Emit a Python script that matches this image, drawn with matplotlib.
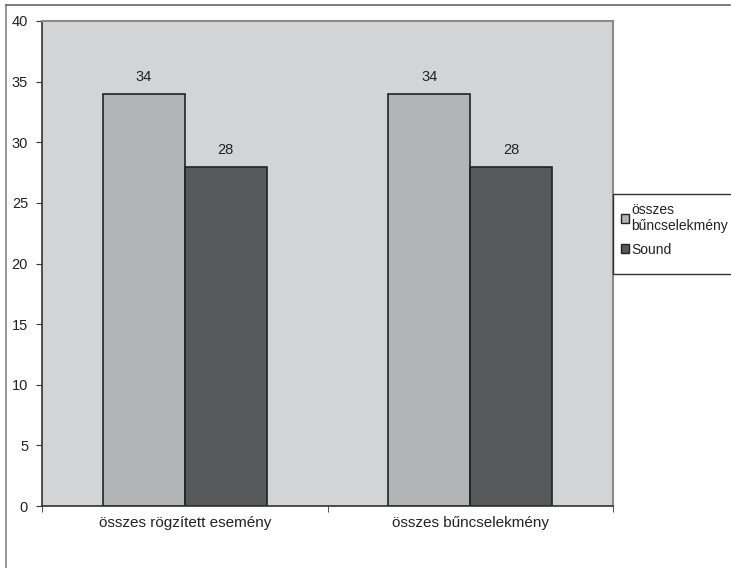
import numpy as np
from matplotlib import pyplot as plt
from matplotlib.lines import Line2D
from matplotlib.patches import Rectangle

plt.rcParams['font.family'] = ['Liberation Sans', 'DejaVu Sans']

categories = ['összes rögzített esemény', 'összes bűncselekmény']
series_names = ['összes\nbűncselekmény', 'Sound']
values_1 = [34, 34]
values_2 = [28, 28]
colours = ['#b3b4b6', '#58595b']

fig = plt.figure(figsize=(7.31, 5.68), dpi=100)
ax = fig.add_axes([42 / 731, 1 - 506 / 568, 571 / 731, 485 / 568])
ax.set_facecolor('#d3d4d6')

x = np.arange(len(categories))
w = 0.288
b1 = ax.bar(x - w / 2, values_1, w, color=colours[0], edgecolor='#222222', linewidth=1.2, label=series_names[0])
b2 = ax.bar(x + w / 2, values_2, w, color=colours[1], edgecolor='#222222', linewidth=1.2, label=series_names[1])
for bars in (b1, b2):
    for r in bars:
        ax.text(r.get_x() + r.get_width() / 2, r.get_height() + 0.8, str(int(r.get_height())),
                ha='center', va='bottom', fontsize=10.5, color='#222222')

ax.set_xlim(-0.5, 1.5)
ax.set_ylim(0, 40)
ax.set_yticks(range(0, 41, 5))
ax.set_xticks(x)
ax.set_xticklabels(categories)
ax.set_xticks([-0.5, 0.5, 1.5], minor=True)
ax.tick_params(axis='x', which='major', length=0, pad=7, labelsize=11, colors='#222222')
ax.tick_params(axis='x', which='minor', length=4, color='#333333')
ax.tick_params(axis='y', length=4, pad=6, labelsize=10.5, colors='#222222', color='#333333')

ax.spines['left'].set_color('#333333')
ax.spines['bottom'].set_color('#333333')
ax.spines['left'].set_linewidth(1.2)
ax.spines['bottom'].set_linewidth(1.2)
ax.spines['top'].set_color('#8a8a8a')
ax.spines['right'].set_color('#8a8a8a')
ax.spines['right'].set_linewidth(1.5)
ax.spines['top'].set_linewidth(1.5)

# outer chart border (top and left edge)
fig.add_artist(Line2D([6 / 731, 6 / 731], [0, 1 - 5 / 568], transform=fig.transFigure, color='#888888', lw=1.2))
fig.add_artist(Line2D([6 / 731, 730 / 731], [1 - 5 / 568, 1 - 5 / 568], transform=fig.transFigure, color='#666666', lw=1.2))

# legend frame, runs off the right edge like in the original
fig.add_artist(Rectangle((613 / 731, 1 - 274 / 568), 130 / 731, 80 / 568, transform=fig.transFigure,
                         facecolor='white', edgecolor='#333333', lw=1.0, zorder=3))
leg = fig.legend(loc='upper left', bbox_to_anchor=(613 / 731, 1 - 195 / 568), frameon=False,
                 fontsize=10, handlelength=0.6, handleheight=0.6, handletextpad=0.15,
                 borderpad=0.55, labelspacing=0.7, borderaxespad=0)
leg.set_zorder(4)
for t in leg.get_texts():
    t.set_color('#222222')
for h in leg.legend_handles:
    h.set_linewidth(1.0)

fig.savefig('out.png', dpi=100)
